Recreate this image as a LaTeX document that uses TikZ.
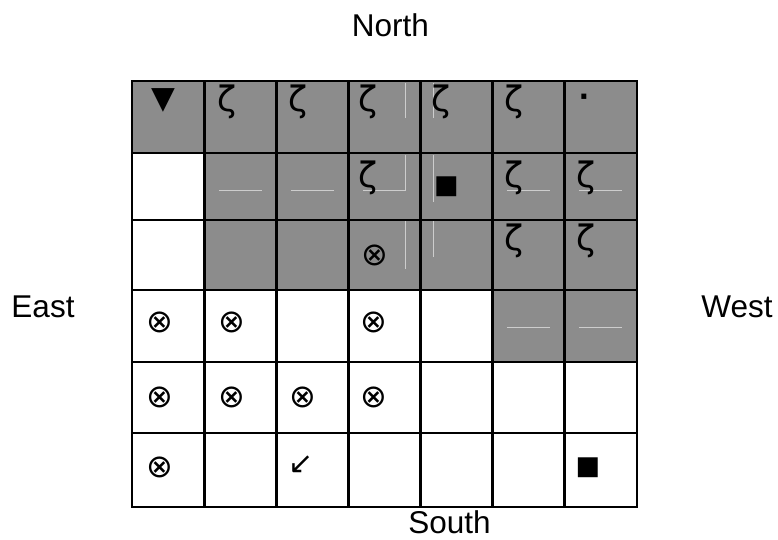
\documentclass[tikz,border=0pt]{standalone}
\usepackage{fontspec}
\setmainfont{Liberation Sans}
\newfontfamily\symfont{DejaVu Sans}
\definecolor{cellgray}{RGB}{140,140,140}
\definecolor{faint}{RGB}{205,205,205}
\begin{document}
\begin{tikzpicture}[x=1pt,y=-1pt,
  cellbox/.style={draw=black,line width=2.8pt,inner sep=0pt,minimum width=72.14pt},
  dirlabel/.style={font=\fontsize{31.5}{32}\selectfont,inner sep=0pt,anchor=base},
  zeta/.style={font=\symfont\fontsize{35}{35}\selectfont,inner sep=0pt},
  otimes/.style={font=\symfont\fontsize{32}{32}\selectfont,inner sep=0pt},
  sq/.style={font=\symfont\fontsize{26}{26}\selectfont,inner sep=0pt},
  faintline/.style={draw=faint,line width=1pt}]
\useasboundingbox (0,0) rectangle (778,539);
% cells
\foreach \r/\t/\b/\g in {0/81/153/0,1/153/220/1,2/220/290/1,3/290/362/5,4/362/433/7,5/433/507/7}{
  \foreach \c in {0,...,6}{
    \ifnum\c<\g \def\fc{white}\else\def\fc{cellgray}\fi
    \pgfmathsetmacro\cx{132+72.14*(\c+0.5)}
    \pgfmathsetmacro\cy{(\t+\b)/2}
    \pgfmathsetmacro\ch{\b-\t}
    \node[cellbox,fill=\fc,minimum height=\ch pt] (c-\r-\c) at (\cx,\cy) {};
  }
}
% faint lines
\draw[faintline] (219,190) -- (262,190);
\draw[faintline] (291,190) -- (334,190);
\draw[faintline] (363,190) -- (405,190) -- (405,155);
\draw[faintline] (507,190) -- (550,190);
\draw[faintline] (579,190) -- (622,190);
\draw[faintline] (405,83) -- (405,118);
\draw[faintline] (433,83) -- (433,118);
\draw[faintline] (433,155) -- (433,202);
\draw[faintline] (405,221) -- (405,269);
\draw[faintline] (433,221) -- (433,257);
\draw[faintline] (507,327) -- (550,327);
\draw[faintline] (579,327) -- (622,327);
% symbols
\node[font=\symfont\fontsize{31}{31}\selectfont,inner sep=0pt] (tri) at (163,100) {▼};
\node[zeta] (z01) at (227.5,102) {ζ};
\node[zeta] (z02) at (298.5,102) {ζ};
\node[zeta] (z03) at (368,102) {ζ};
\node[zeta] (z04) at (441,102) {ζ};
\node[zeta] (z05) at (514,102) {ζ};
\node[font=\symfont\bfseries\fontsize{28}{28}\selectfont,inner sep=0pt] (dot) at (584,100) {·};
\node[zeta] (z13) at (368,177.5) {ζ};
\node[sq] (sq14) at (446.5,186.5) {■};
\node[zeta] (z15) at (514,177.5) {ζ};
\node[zeta] (z16) at (586,177.5) {ζ};
\node[otimes] (o23) at (375,255) {⊗};
\node[zeta] (z25) at (514,241) {ζ};
\node[zeta] (z26) at (586,241) {ζ};
\node[otimes] (o30) at (160,322) {⊗};
\node[otimes] (o31) at (232,322) {⊗};
\node[otimes] (o33) at (374,322) {⊗};
\node[otimes] (o40) at (160,397) {⊗};
\node[otimes] (o41) at (232,397) {⊗};
\node[otimes] (o42) at (303,397) {⊗};
\node[otimes] (o43) at (374,397) {⊗};
\node[otimes] (o50) at (160,467) {⊗};
\node[font=\symfont\fontsize{30}{30}\selectfont,inner sep=0pt] (arr) at (301,465) {↙};
\node[sq] (sq56) at (588,467.5) {■};
% direction labels
\node[dirlabel] (north) at (390.5,36) {North};
\node[dirlabel] (east) at (43,317) {East};
\node[dirlabel] (west) at (737,317) {West};
\node[dirlabel] (south) at (449.5,533.5) {South};
\end{tikzpicture}
\end{document}
